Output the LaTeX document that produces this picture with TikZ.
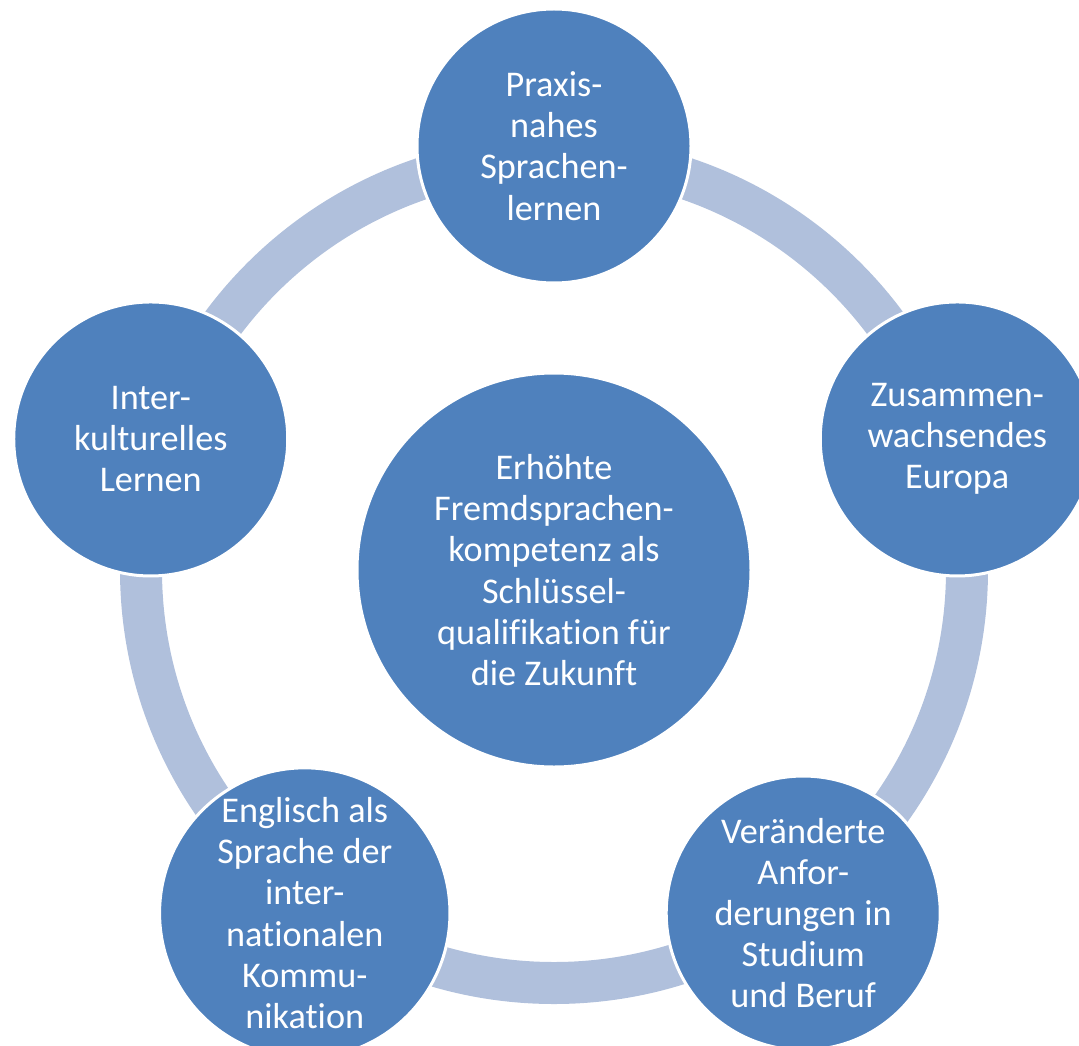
\documentclass[tikz,border=0pt]{standalone}
\usepackage{fontspec}
\setmainfont{Carlito}[Ligatures={NoCommon,NoContextual}]
\definecolor{bubbleblue}{RGB}{79,129,189}
\definecolor{ringblue}{RGB}{176,192,220}
\tikzset{
  bubble/.style={circle, fill=bubbleblue, draw=white, line width=1.5pt,
    text=white, align=center, inner sep=0pt,
    font=\fontsize{18.1}{20.6}\selectfont},
  hubnode/.style={bubble, minimum size=197pt},
  satellite/.style={bubble, minimum size=137pt},
  ringline/.style={draw=ringblue, line width=21pt}
}
\begin{document}
\begin{tikzpicture}
  \useasboundingbox (-277pt,-237.5pt) rectangle (262.5pt,285pt);
  \coordinate (mid) at (0,0);
  \draw[ringline] (mid) circle (206.5pt);

  \node[hubnode] (hub) at (mid) {Erhöhte\\Fremdsprachen-\\kompetenz als\\Schlüssel-\\qualifikation für\\die Zukunft};

  \foreach \ang/\nm/\txt in {90/praxis/{Praxis-\\nahes\\Sprachen-\\lernen},
      18/europa/{Zusammen-\\wachsendes\\Europa},
      -54/beruf/{Veränderte\\Anfor-\\derungen in\\Studium\\und Beruf},
      -126/englisch/{Englisch als\\Sprache der\\inter-\\nationalen\\Kommu-\\nikation},
      162/kultur/{Inter-\\kulturelles\\Lernen}} {
    \node[satellite] (\nm) at (\ang:212pt) {\txt};
  }
\end{tikzpicture}
\end{document}
